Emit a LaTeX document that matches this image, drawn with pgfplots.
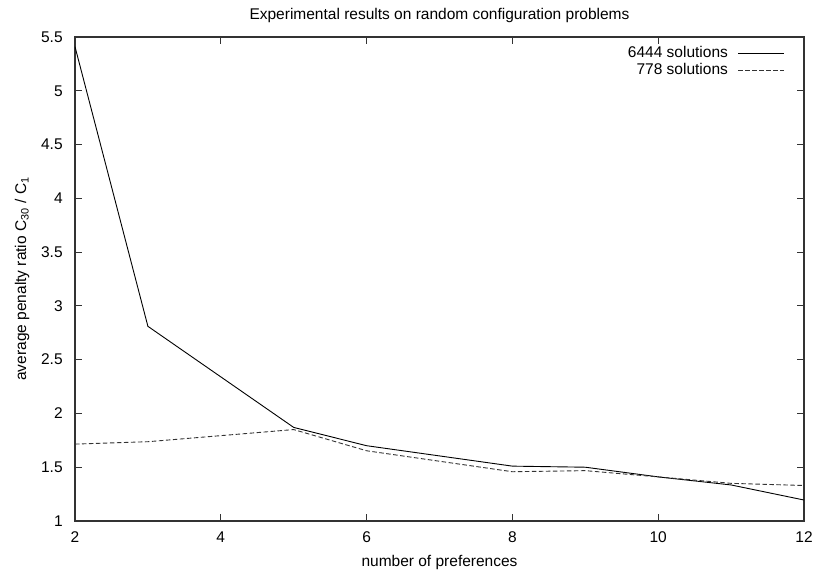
\documentclass[border=0pt]{standalone}
\usepackage{fontspec}
\setmainfont{Liberation Sans}
\usepackage{pgfplots}
\pgfplotsset{compat=1.18}
\definecolor{axisgray}{HTML}{333333}
\begin{document}
\fontsize{15.5bp}{18bp}\selectfont
\begin{tikzpicture}[font=\fontsize{15.5bp}{18bp}\selectfont]
\begin{axis}[
    scale only axis, width=729bp, height=484bp,
    xmin=2, xmax=12, ymin=1, ymax=5.5,
    xtick={2,4,...,12}, ytick={1,1.5,...,5.5},
    /pgf/number format/assume math mode=true,
    axis line style={draw=axisgray, line width=1.4bp},
    major tick length=7bp,
    every tick/.style={draw=axisgray, line width=1bp},
    tick align=inside,
    xticklabel style={yshift=-5bp},
    yticklabel style={xshift=-7bp},
    title={Experimental results on random configuration problems},
    title style={at={(axis description cs:0.5,1.033)}, anchor=center},
    xlabel={number of preferences},
    xlabel style={at={(axis description cs:0.5,-0.085)}, anchor=center},
    ylabel={average penalty ratio C\textsubscript{30} / C\textsubscript{1}},
    ylabel style={at={(axis description cs:-0.0727,0.5)}, anchor=center, rotate=0},
    legend plot pos=right,
    legend cell align=right,
    legend image code/.code={\draw[#1] (0bp,0bp) -- (46bp,0bp);},
    legend style={draw=none, fill=none, inner sep=0pt,
        at={(axis description cs:1,1)}, anchor=north east,
        xshift=-19bp, yshift=-9.5bp,
        row sep=3bp, column sep=10bp,
        nodes={inner sep=0pt, text height=11bp, text depth=3bp}},
]
\addplot[black, line width=0.9bp] coordinates {
    (2,5.41)(3,2.81)(5,1.87)(6,1.70)(8,1.51)(9,1.50)(10,1.41)(11,1.335)(12,1.195)};
\addplot[black!80, line width=0.9bp, dash pattern=on 4.5bp off 2.5bp] coordinates {
    (2,1.715)(3,1.737)(5,1.85)(6,1.653)(8,1.458)(9,1.468)(10,1.41)(11,1.35)(12,1.33)};
\legend{6444 solutions, 778 solutions}
\end{axis}
\pgfresetboundingbox
\path ([shift={(-75bp,-52bp)}]current axis.south west) rectangle ([shift={(11bp,37bp)}]current axis.north east);
\end{tikzpicture}
\end{document}
